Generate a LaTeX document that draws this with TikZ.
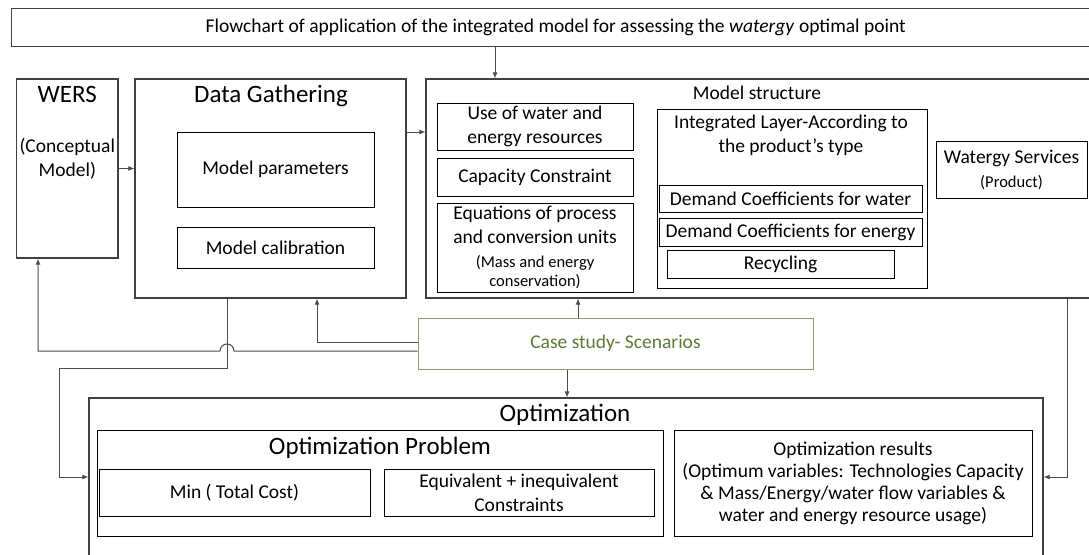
\documentclass[tikz,border=0pt]{standalone}
\usepackage{fontspec}
\setmainfont{Carlito}
\usetikzlibrary{arrows.meta}
\definecolor{olivebox}{RGB}{140,158,110}
\definecolor{olivetext}{RGB}{95,122,55}
\newcommand{\bigfnt}{\fontsize{25}{30}\selectfont}
\newcommand{\midfnt}{\fontsize{19.5}{24}\selectfont}
\newcommand{\smlfnt}{\fontsize{16.5}{19.5}\selectfont}

\tikzset{
  frame/.style={rectangle, draw=black!75, line width=1.1pt},
  box/.style={rectangle, draw=black, line width=1pt, align=center, font=\midfnt, inner sep=2pt},
  txt/.style={align=center, font=\midfnt, inner sep=0pt},
  arr/.style={-{Latex[length=6pt,width=5pt]}, draw=black!70, line width=1pt},
}

\begin{document}
\begin{tikzpicture}[x=1pt, y=-1pt]
  \useasboundingbox (0,0) rectangle (1089,554);
  % title
  \node[frame, font=\midfnt, minimum width=1088, minimum height=38.4] (title) at (555.7,27.5)
        {Flowchart of application of the integrated model for assessing the \emph{watergy} optimal point};
  % WERS
  \node[frame, minimum width=101.3, minimum height=179] (wers) at (67.3,168.5) {};
  \node[txt, font=\bigfnt] (wersname) at (67.3,94) {WERS};
  \node[txt] (werssub) at (67.3,158.5) {(Conceptual\\Model)};
  % data gathering
  \node[frame, minimum width=271, minimum height=219] (dg) at (270.5,188.5) {};
  \node[txt, font=\bigfnt] (dgname) at (271,96) {Data Gathering};
  \node[box, minimum width=197, minimum height=75] (mpar) at (275.5,169.5) {Model parameters};
  \node[box, minimum width=197, minimum height=41] (mcal) at (275.5,247.5) {Model calibration};
  % model structure
  \node[frame, minimum width=674, minimum height=219] (ms) at (763,188.5) {};
  \node[txt] (msname) at (757,93) {Model structure};
  \node[box, minimum width=196, minimum height=47] (uwer) at (535,126.5) {Use of water and\\energy resources};
  \node[box, minimum width=196, minimum height=38] (ccon) at (535,177) {Capacity Constraint};
  \node[box, minimum width=196, minimum height=89] (equ) at (535,247.5)
        {Equations of process\\and conversion units\\\smlfnt(Mass and energy\\[-5pt]\smlfnt conservation)};
  \node[box, minimum width=270, minimum height=179] (intl) at (792,198.5) {};
  \node[txt] (intlname) at (791,135.5) {Integrated Layer-According to\\the product’s type};
  \node[box, minimum width=263, minimum height=27] (dcw) at (790.5,198.5) {Demand Coefficients for water};
  \node[box, minimum width=263, minimum height=28] (dce) at (790.5,232) {Demand Coefficients for energy};
  \node[box, minimum width=227, minimum height=28] (recy) at (780.5,264) {Recycling};
  \node[box, minimum width=151, minimum height=57] (wsrv) at (1011.5,169.5) {Watergy Services\\\smlfnt(Product)};
  % case study
  \node[box, draw=olivebox, text=olivetext, minimum width=395, minimum height=51] (cs) at (615.5,343.5)
        {Case study- Scenarios};
  % optimization
  \node[frame, minimum width=954, minimum height=202] (opt) at (566,499) {};
  \node[txt, font=\bigfnt] (optname) at (565,415) {Optimization};
  \node[box, minimum width=566, minimum height=106] (oprob) at (380,483) {};
  \node[txt, font=\bigfnt] (oprobname) at (380,448) {Optimization Problem};
  \node[box, minimum width=271, minimum height=47] (omin) at (234.5,492.5) {Min ( Total Cost)};
  \node[box, minimum width=270, minimum height=47] (oeq) at (519,492.5) {Equivalent + inequivalent\\Constraints};
  \node[box, font=\fontsize{19.5}{22}\selectfont, minimum width=358, minimum height=106] (ores) at (853,483)
        {Optimization results\\(Optimum variables: Technologies Capacity\\\& Mass/Energy/water flow variables \&\\water and energy resource usage)};
  % connectors
  \draw[arr] (495,0 |- title.south) -- (495,0 |- ms.north);
  \draw[arr] (wers.east) -- (dg.west |- wers.east);
  \draw[arr] (dg.east |- 0,132) -- (ms.west |- 0,132);
  \draw[arr] (578,0 |- cs.north) -- (578,0 |- ms.south);
  \draw[arr] (cs.west |- 0,342) -| (317,0 |- dg.south);
  \draw[arr] (cs.west |- 0,351) -- (234,351) arc[start angle=0, end angle=180, radius=7pt]
        -- (38,351) -- (38,0 |- wers.south);
  \draw[arr] (227,0 |- dg.south) |- (59,368) |- (opt.west |- 0,477);
  \draw[arr] (567,0 |- cs.south) -- (567,0 |- opt.north);
  \draw[arr] (1067,0 |- ms.south) |- (opt.east |- 0,477);
\end{tikzpicture}
\end{document}
